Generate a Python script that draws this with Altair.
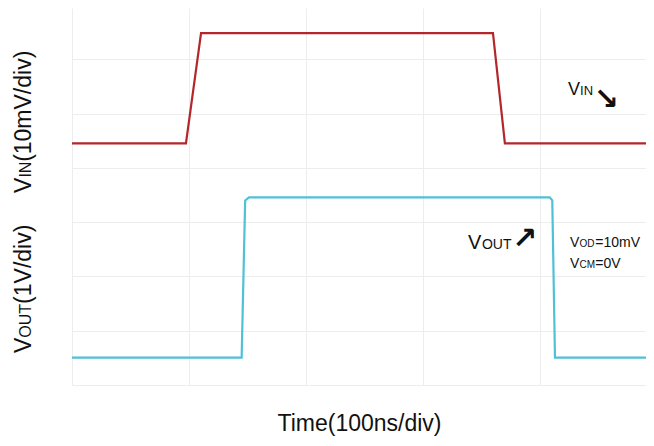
import altair as alt
import pandas as pd

# ---- data (divisions) ----
vin_t = [0.0, 0.974, 1.103, 3.598, 3.70, 4.95]
vin_v = [4.45, 4.45, 6.48, 6.48, 4.45, 4.45]
vout_t = [0.0, 1.45, 1.48, 1.513, 4.083, 4.105, 4.128, 4.95]
vout_v = [0.503, 0.503, 3.40, 3.457, 3.457, 3.40, 0.503, 0.503]

X_MAX = 574 / 117.0
Y_MAX = 377 / 54.29
FONT = "Liberation Sans"

# text pieces: text, x, y, size, angle
lab_text = ["V", "IN", "(10mV/div)", "V", "OUT", "(1V/div)",
            "V", "IN", "V", "OUT",
            "V", "OD", "=10mV", "V", "CM", "=0V"]
lab_x = [-0.35, -0.35, -0.35, -0.35, -0.35, -0.35,
         4.239, 4.342, 3.385, 3.504,
         4.256, 4.337, 4.472, 4.256, 4.337, 4.472]
lab_y = [3.537, 3.82, 4.11, 0.589, 0.871, 1.494,
         5.342, 5.342, 2.505, 2.505,
         2.542, 2.542, 2.542, 2.155, 2.155, 2.155]
lab_size = [23, 16, 23, 23, 16, 23,
            18, 13, 20, 14,
            14, 10, 14, 14, 10, 14]
lab_angle = [270, 270, 270, 270, 270, 270,
             0, 0, 0, 0, 0, 0, 0, 0, 0, 0]

arrow_text = ["↘", "↗"]
arrow_x = [4.564, 3.868]
arrow_y = [5.25, 2.689]

vin = pd.DataFrame({"t": vin_t, "v": vin_v})
vout = pd.DataFrame({"t": vout_t, "v": vout_v})
labs = pd.DataFrame({"text": lab_text, "x": lab_x, "y": lab_y,
                     "size": lab_size, "angle": lab_angle})
arrows = pd.DataFrame({"text": arrow_text, "x": arrow_x, "y": arrow_y})

xs = alt.Scale(domain=[0, X_MAX], nice=False, zero=False)
ys = alt.Scale(domain=[0, Y_MAX], nice=False, zero=False)

GRID = "#ededed"
x_axis = alt.Axis(values=[0, 1, 2, 3, 4], labels=False, ticks=False, domain=False,
                  grid=True, gridColor=GRID, title="Time(100ns/div)",
                  titleFont=FONT, titleFontSize=23, titleFontWeight="normal",
                  titleColor="#111111", titlePadding=27)
y_axis = alt.Axis(values=[0, 1, 2, 3, 4, 5, 6], labels=False, ticks=False, domain=False,
                  grid=True, gridColor=GRID, title=None)

red = alt.Chart(vin).mark_line(color="#b3262b", strokeWidth=2.2).encode(
    x=alt.X("t:Q", scale=xs, axis=x_axis),
    y=alt.Y("v:Q", scale=ys, axis=y_axis),
)
cyan = alt.Chart(vout).mark_line(color="#4fc0d8", strokeWidth=2.2).encode(
    x=alt.X("t:Q", scale=xs, axis=x_axis),
    y=alt.Y("v:Q", scale=ys, axis=y_axis),
)
texts = alt.Chart(labs).mark_text(align="left", baseline="alphabetic", font=FONT,
                                  color="#111111").encode(
    x=alt.X("x:Q", scale=xs, axis=x_axis),
    y=alt.Y("y:Q", scale=ys, axis=y_axis),
    text="text:N",
    size=alt.Size("size:Q", scale=None, legend=None),
    angle=alt.Angle("angle:Q", scale=None, legend=None),
)
arrow_marks = alt.Chart(arrows).mark_text(align="center", baseline="middle",
                                          font="DejaVu Sans", fontWeight="bold",
                                          fontSize=30, color="#111111").encode(
    x=alt.X("x:Q", scale=xs, axis=x_axis),
    y=alt.Y("y:Q", scale=ys, axis=y_axis),
    text="text:N",
)

chart = alt.layer(red, cyan, texts, arrow_marks).properties(
    width=574, height=377,
    autosize=alt.AutoSizeParams(type="none"),
    padding={"left": 64, "top": 0, "right": 0, "bottom": 53},
    background="white",
).configure_view(stroke=None)

chart.save("out.html", embed_options={"renderer": "svg", "actions": False})
